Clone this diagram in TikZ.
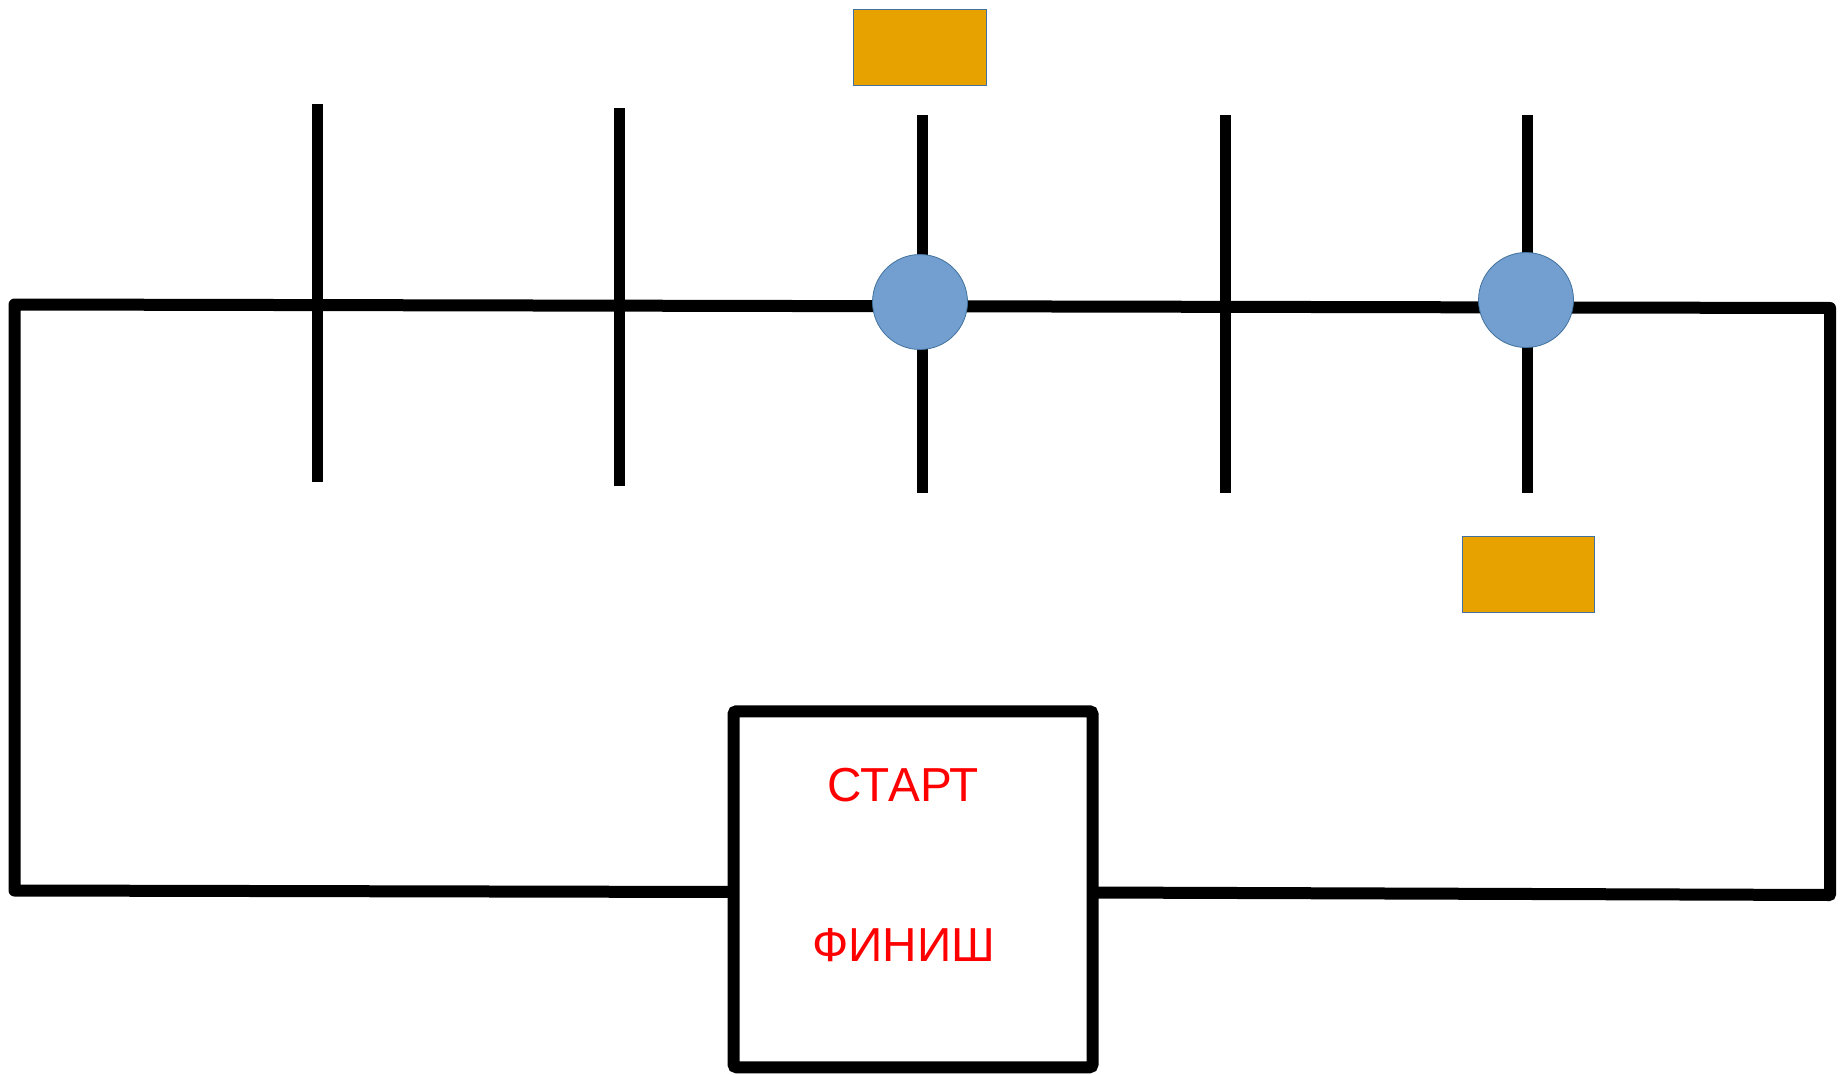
\documentclass[tikz,border=0pt]{standalone}
\usepackage{fontspec}
\setmainfont{Liberation Sans}
\definecolor{orangefill}{RGB}{232,162,0}
\definecolor{bluefill}{RGB}{114,159,207}
\definecolor{blueline}{RGB}{65,113,156}
\definecolor{textred}{RGB}{255,0,0}
\begin{document}
\begin{tikzpicture}[x=1pt,y=-1pt,
  wire/.style={line width=12pt,line join=round,black},
  tick/.style={line width=11pt,black,line cap=butt},
  marker/.style={circle,fill=bluefill,draw=blueline,line width=0.8pt,minimum size=95pt,inner sep=0pt},
  flag/.style={rectangle,fill=orangefill,draw=blueline,line width=0.8pt,inner sep=0pt},
  startbox/.style={rectangle,draw=black,line width=12pt,rounded corners=3pt,minimum width=359pt,minimum height=356pt,inner sep=0pt},
  label/.style={text=textred,font=\fontsize{47.7pt}{52pt}\selectfont,inner sep=0pt,anchor=base}]
\useasboundingbox (0,0) rectangle (1843,1075);
% start/finish box
\node[startbox] (box) at (913,889.25) {};
\node[label] (start) at (903.5,801) {СТАРТ};
\node[label] (finish) at (903.5,961) {ФИНИШ};
% loop corners
\coordinate (bl) at (14.5,890.5);
\coordinate (tl) at (14.5,304.5);
\coordinate (tr) at (1830,308);
\coordinate (br) at (1830,895);
\coordinate (boxL) at (733.5,892);
\coordinate (boxR) at (1092.5,892.5);
\draw[wire] (boxL) -- (bl) -- (tl) -- (tr) -- (br) -- (boxR);
% ticks
\coordinate (t1a) at (317,104); \coordinate (t1b) at (317,482);
\coordinate (t2a) at (619.5,108); \coordinate (t2b) at (619.5,486);
\coordinate (t3a) at (922.5,115); \coordinate (t3b) at (922.5,493);
\coordinate (t4a) at (1225,115); \coordinate (t4b) at (1225,493);
\coordinate (t5a) at (1527,115); \coordinate (t5b) at (1527,493);
\draw[tick] (t1a) -- (t1b);
\draw[tick] (t2a) -- (t2b);
\draw[tick] (t3a) -- (t3b);
\draw[tick] (t4a) -- (t4b);
\draw[tick] (t5a) -- (t5b);
% markers
\node[marker] (m1) at (920,302) {};
\node[marker] (m2) at (1526,300) {};
% flags
\node[flag,minimum width=133pt,minimum height=76pt] (f1) at (919.5,47) {};
\node[flag,minimum width=132pt,minimum height=76pt] (f2) at (1528,574) {};
\end{tikzpicture}
\end{document}
